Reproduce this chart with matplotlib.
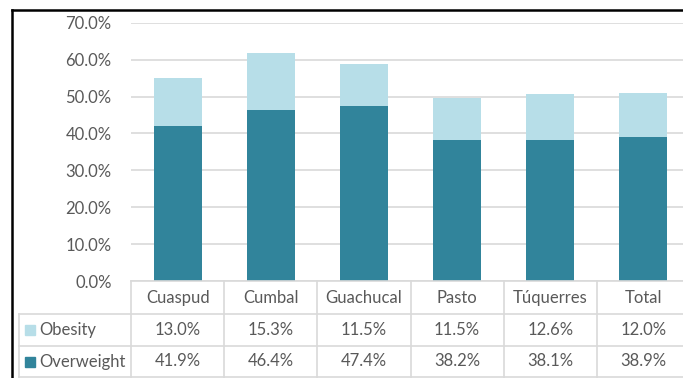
import matplotlib
matplotlib.use("Agg")
import matplotlib.pyplot as plt
from matplotlib.lines import Line2D
from matplotlib.patches import Rectangle
import numpy as np

categories = ["Cuaspud", "Cumbal", "Guachucal", "Pasto", "Túquerres", "Total"]
overweight = [41.9, 46.4, 47.4, 38.2, 38.1, 38.9]
obesity = [13.0, 15.3, 11.5, 11.5, 12.6, 12.0]
series_names = ["Obesity", "Overweight"]
yticks = [0, 10, 20, 30, 40, 50, 60, 70]

C_OVER = "#31849B"
C_OBES = "#B7DEE8"
GRID = "#D9D9D9"
TXT = "#595959"
FONT = "Lato"
FS = 12

W, H = 683, 378
fig = plt.figure(figsize=(W / 100, H / 100), dpi=100)

# main plot axes (pixel layout)
left_px, right_px, top_px, bot_px = 131, 690, 22.7, 281
ax = fig.add_axes([left_px / W, 1 - bot_px / H, (right_px - left_px) / W, (bot_px - top_px) / H])
x = np.arange(len(categories))
ax.bar(x, overweight, width=0.515, color=C_OVER, zorder=3)
ax.bar(x, obesity, bottom=overweight, width=0.515, color=C_OBES, zorder=3)
ax.set_xlim(-0.5, len(categories) - 0.5)
ax.set_ylim(0, 70)
ax.set_yticks(yticks)
ax.set_yticklabels([f"{v:.1f}%" for v in yticks], fontfamily=FONT, fontsize=FS, color=TXT)
ax.tick_params(axis="y", length=0, pad=14)
ax.tick_params(axis="x", length=0, labelbottom=False)
ax.grid(axis="y", color=GRID, linewidth=1.2, zorder=0)
for s in ax.spines.values():
    s.set_visible(False)

# overlay in pixel coords
ov = fig.add_axes([0, 0, 1, 1], zorder=5)
ov.set_xlim(0, W)
ov.set_ylim(H, 0)
ov.axis("off")
ov.patch.set_alpha(0)

fig.canvas.draw()
def col_px(i):
    return ax.transData.transform((i, 0))[0]
step = col_px(1) - col_px(0)
edges = [col_px(i) - step / 2 for i in range(len(categories))] + [col_px(len(categories) - 1) + step / 2]

row_y = [281, 314, 346, 377]
lab_left = 18.5
lw = 1.2
# horizontal lines
ov.add_line(Line2D([edges[0], edges[-1]], [row_y[0], row_y[0]], color=GRID, lw=lw))
for yy in row_y[1:]:
    ov.add_line(Line2D([lab_left, edges[-1]], [yy, yy], color=GRID, lw=lw))
# vertical lines
for e in edges:
    ov.add_line(Line2D([e, e], [row_y[0], row_y[-1]], color=GRID, lw=lw))
ov.add_line(Line2D([lab_left, lab_left], [row_y[1], row_y[-1]], color=GRID, lw=lw))

# header texts
for i, c in enumerate(categories):
    ov.text(col_px(i), (row_y[0] + row_y[1]) / 2 + 0.5, c, ha="center", va="center",
            fontfamily=FONT, fontsize=FS, color=TXT)
# rows
rows = [(series_names[0], obesity, C_OBES), (series_names[1], overweight, C_OVER)]
for r, (name, vals, col) in enumerate(rows):
    yc = (row_y[r + 1] + row_y[r + 2]) / 2
    ov.add_patch(Rectangle((25, yc - 5), 10, 10, color=col))
    ov.text(39, yc, name, ha="left", va="center", fontfamily=FONT, fontsize=FS, color=TXT)
    for i, v in enumerate(vals):
        ov.text(col_px(i), yc, f"{v:.1f}%", ha="center", va="center",
                fontfamily=FONT, fontsize=FS, color=TXT)

# black outer border
ov.add_line(Line2D([12, 12], [10, H + 5], color="black", lw=1.8, solid_capstyle="projecting"))
ov.add_line(Line2D([12, W + 5], [10, 10], color="black", lw=1.8, solid_capstyle="projecting"))

fig.savefig("out.png", dpi=100)
